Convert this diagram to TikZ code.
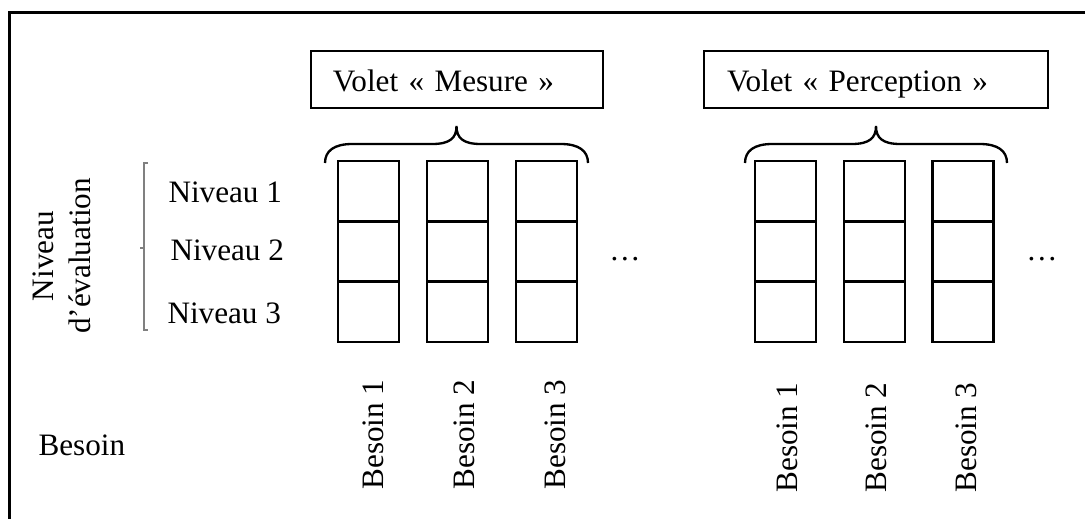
\documentclass[tikz,border=0pt]{standalone}
\usepackage{fontspec}
\setmainfont{Liberation Serif}

\begin{document}
\begin{tikzpicture}[
		x={(0.385pt,0pt)},
		y={(0pt,-0.385pt)},
		font=\fontsize{12}{14.5}\selectfont,
		cell/.style={draw, line width=1pt, minimum width=23.5pt, minimum height=23.2pt, inner sep=0pt, outer sep=0pt},
		volet/.style={draw, line width=0.6pt, align=left, minimum height=22pt, inner ysep=0pt, text height=10pt, text depth=0.5pt},
		lab/.style={anchor=west, inner xsep=0pt},
		besoin/.style={rotate=90, anchor=base west, inner sep=0pt},
		brace/.style={line width=0.9pt}
		]
		
		\useasboundingbox (0,0) rectangle (1085,519);
		
		% frame (cut on the right and at the bottom)
		\draw[line width=0.9pt] (1085,12.5) -- (9.5,12.5) -- (9.5,519);
		
		% the two parts
		\node[volet, inner xsep=8.5pt, text width=95.5pt] (mesure) at (457,79.5) {Volet « Mesure »};
		\node[volet, inner xsep=8.9pt, text width=114.7pt] (percep) at (876,79.5) {Volet « Perception »};
		
		% braces
		\draw[brace] (325,163) .. controls (325,151) and (334,144) .. (352,144) -- (432,144)
		.. controls (450,144) and (456.5,138) .. (456.5,126) .. controls (456.5,138) and (463,144) .. (481,144)
		-- (561,144) .. controls (579,144) and (588,151) .. (588,163);
		\draw[brace] (745,163) .. controls (745,151) and (754,144) .. (772,144) -- (851.5,144)
		.. controls (869.5,144) and (876,138) .. (876,126) .. controls (876,138) and (882.5,144) .. (900.5,144)
		-- (980,144) .. controls (998,144) and (1007,151) .. (1007,163);
		
		% grid of cells
		\foreach \col/\x in {m1/368.5, m2/457.5, m3/546.5, p1/785.5, p2/874.5, p3/963}
		\foreach \row/\y in {1/191.2, 2/251.5, 3/311.8}
		\node[cell] (\col-\row) at (\x,\y) {};
		
		\node[anchor=base] (dotsm) at (625,260) {…};
		\node[anchor=base] (dotsp) at (1042,260) {…};
		
		% levels
		\node[rotate=90, align=center] (eval) at (62,256) {Niveau\\d’évaluation};
		\draw[gray, line width=0.4pt] (148,163) -- (144,163) -- (144,330) -- (148,330) (144,248) -- (140,248);
		\node[lab] (niv1) at (168,192) {Niveau 1};
		\node[lab] (niv2) at (170,250) {Niveau 2};
		\node[lab] (niv3) at (167,313) {Niveau 3};
		
		% needs
		\node[lab] (besoin) at (38,445) {Besoin};
		\node[besoin] (bm1) at (383.5,490) {Besoin 1};
		\node[besoin] (bm2) at (474.5,490) {Besoin 2};
		\node[besoin] (bm3) at (565.5,490) {Besoin 3};
		\node[besoin] (bp1) at (797,493) {Besoin 1};
		\node[besoin] (bp2) at (886,493) {Besoin 2};
		\node[besoin] (bp3) at (976.5,493) {Besoin 3};
		
	\end{tikzpicture}
\end{document}
